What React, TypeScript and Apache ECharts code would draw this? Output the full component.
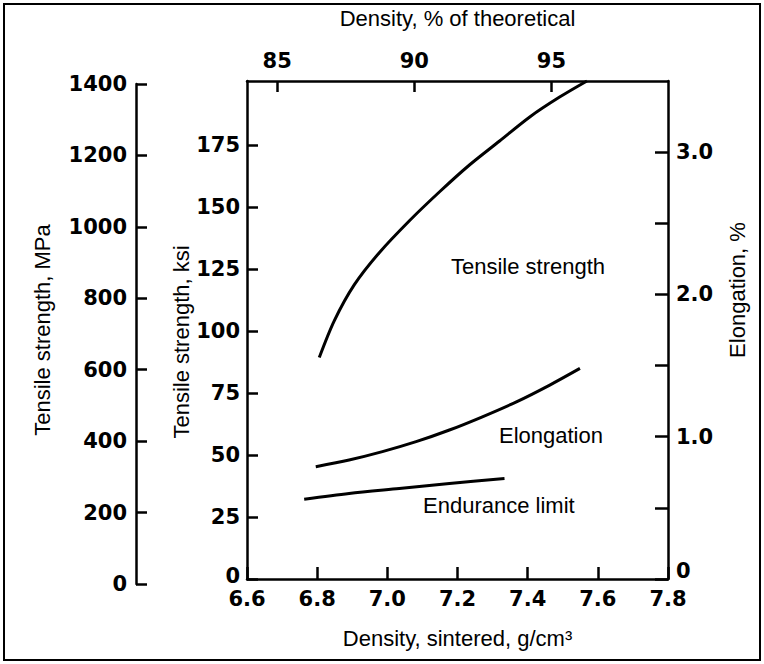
import React, { useEffect, useRef } from "react";
import * as echarts from "echarts";

// ---- data ----
const densityTensile = [6.806, 6.849, 6.906, 6.977, 7.063, 7.149, 7.234, 7.32, 7.406, 7.491, 7.569];
const tensileKsi = [89.4, 104.3, 118.8, 131.7, 144.6, 156.3, 167.1, 176.8, 186.5, 194.5, 201];

const densityElong = [6.796, 6.891, 6.986, 7.082, 7.177, 7.271, 7.368, 7.463, 7.549];
const elongationPct = [0.789, 0.836, 0.895, 0.965, 1.047, 1.14, 1.245, 1.363, 1.48];

const densityEndur = [6.763, 6.891, 7.034, 7.177, 7.334];
const enduranceKsi = [32.2, 34.5, 36.5, 38.5, 40.6];

const ksiTicks = [0, 25, 50, 75, 100, 125, 150, 175];
const elongTicks = [0, 0.5, 1, 1.5, 2, 2.5, 3];
const elongLabels = [0, 1, 2, 3];
const mpaTicks = [0, 200, 400, 600, 800, 1000, 1200, 1400];

const pairs = (xs: number[], ys: number[]) => xs.map((x, i) => [x, ys[i]]);

const LABEL_FONT = {
  fontFamily: "DejaVu Sans",
  fontWeight: "bold" as const,
  fontSize: 21,
  color: "#000",
};
const TITLE_FONT = {
  fontFamily: "Liberation Sans",
  fontSize: 22,
  color: "#000",
};
const AXIS_LINE = { show: true, onZero: false, lineStyle: { color: "#000", width: 2.5 } };
const TICK = (len: number) => ({
  show: true,
  inside: true,
  length: len,
  lineStyle: { color: "#000", width: 2.5 },
});

export default function App() {
  const ref = useRef<HTMLDivElement>(null);

  useEffect(() => {
    if (!ref.current) return;
    const chart = echarts.init(ref.current, null, { renderer: "svg" });
    const option: any = {
      animation: false,
      backgroundColor: "#fff",
      grid: [
        { left: 247, top: 81, right: 96, bottom: 85, containLabel: false, outerBoundsMode: "none" },
        { left: 136, top: 84, width: 1, bottom: 80, containLabel: false, outerBoundsMode: "none" },
      ],
      xAxis: [
        {
          type: "value",
          gridIndex: 0,
          position: "bottom",
          min: 6.6,
          max: 7.8,
          interval: 0.2,
          axisLine: AXIS_LINE,
          axisTick: TICK(12),
          splitLine: { show: false },
          axisLabel: {
            ...LABEL_FONT,
            margin: 9,
            formatter: (v: number) => v.toFixed(1),
          },
          name: "Density, sintered, g/cm\u00B3",
          nameLocation: "middle",
          nameGap: 48,
          nameTextStyle: TITLE_FONT,
        },
        {
          type: "value",
          gridIndex: 0,
          position: "top",
          min: 83.9,
          max: 99.25,
          splitNumber: 3,
          minInterval: 5,
          maxInterval: 5,
          axisLine: AXIS_LINE,
          axisTick: TICK(11),
          splitLine: { show: false },
          axisLabel: {
            ...LABEL_FONT,
            margin: 10,
            showMinLabel: false,
            showMaxLabel: false,
            formatter: (v: number) => (Math.abs(v % 5) < 1e-6 ? String(v) : ""),
          },
          name: "Density, % of theoretical",
          nameLocation: "middle",
          nameGap: 52,
          nameTextStyle: TITLE_FONT,
        },
        {
          type: "value",
          gridIndex: 1,
          show: false,
          min: 0,
          max: 1,
        },
      ],
      yAxis: [
        {
          type: "value",
          gridIndex: 0,
          position: "left",
          min: 0,
          max: 201,
          axisLine: AXIS_LINE,
          axisTick: { ...TICK(11), customValues: ksiTicks },
          splitLine: { show: false },
          axisLabel: {
            ...LABEL_FONT,
            margin: 7,
            customValues: ksiTicks,
            formatter: (v: number) => (v === 0 ? "{z|0}" : String(v)),
            rich: { z: { ...LABEL_FONT, padding: [0, 0, 6, 0] } },
          },
        },
        {
          type: "value",
          gridIndex: 0,
          position: "right",
          min: 0,
          max: 3.5,
          axisLine: AXIS_LINE,
          axisTick: { ...TICK(13), customValues: elongTicks },
          splitLine: { show: false },
          axisLabel: {
            ...LABEL_FONT,
            margin: 8,
            customValues: elongLabels,
            formatter: (v: number) => (v === 0 ? "{z|0}" : v.toFixed(1)),
            rich: { z: { ...LABEL_FONT, padding: [0, 0, 16, 0] } },
          },
        },
        {
          type: "value",
          gridIndex: 1,
          position: "left",
          min: 0,
          max: 1400,
          axisLine: AXIS_LINE,
          axisTick: { ...TICK(11), customValues: mpaTicks },
          splitLine: { show: false },
          axisLabel: {
            ...LABEL_FONT,
            margin: 9,
            customValues: mpaTicks,
            formatter: (v: number) => String(v),
          },
        },
      ],
      series: [
        {
          type: "line",
          name: "Tensile strength",
          xAxisIndex: 0,
          yAxisIndex: 0,
          data: pairs(densityTensile, tensileKsi),
          smooth: 0.3,
          showSymbol: false,
          lineStyle: { color: "#000", width: 3 },
        },
        {
          type: "line",
          name: "Elongation",
          xAxisIndex: 0,
          yAxisIndex: 1,
          data: pairs(densityElong, elongationPct),
          smooth: 0.3,
          showSymbol: false,
          lineStyle: { color: "#000", width: 3 },
        },
        {
          type: "line",
          name: "Endurance limit",
          xAxisIndex: 0,
          yAxisIndex: 0,
          data: pairs(densityEndur, enduranceKsi),
          smooth: 0.3,
          showSymbol: false,
          lineStyle: { color: "#000", width: 3 },
        },
      ],
      graphic: [
        {
          type: "rect",
          shape: { x: 4, y: 4, width: 756, height: 656 },
          style: { fill: "none", stroke: "#000", lineWidth: 2 },
          silent: true,
        },
        {
          type: "text",
          x: 42,
          y: 330,
          rotation: Math.PI / 2,
          style: {
            text: "Tensile strength, MPa",
            align: "center",
            verticalAlign: "middle",
            font: "22px 'Liberation Sans'",
            fill: "#000",
          },
        },
        {
          type: "text",
          x: 181,
          y: 342,
          rotation: Math.PI / 2,
          style: {
            text: "Tensile strength, ksi",
            align: "center",
            verticalAlign: "middle",
            font: "22px 'Liberation Sans'",
            fill: "#000",
          },
        },
        {
          type: "text",
          x: 737,
          y: 290,
          rotation: Math.PI / 2,
          style: {
            text: "Elongation, %",
            align: "center",
            verticalAlign: "middle",
            font: "22px 'Liberation Sans'",
            fill: "#000",
          },
        },
        {
          type: "text",
          x: 451,
          y: 266,
          style: {
            text: "Tensile strength",
            align: "left",
            verticalAlign: "middle",
            font: "22px 'Liberation Sans'",
            fill: "#000",
          },
        },
        {
          type: "text",
          x: 499,
          y: 435,
          style: {
            text: "Elongation",
            align: "left",
            verticalAlign: "middle",
            font: "22px 'Liberation Sans'",
            fill: "#000",
          },
        },
        {
          type: "text",
          x: 423,
          y: 505,
          style: {
            text: "Endurance limit",
            align: "left",
            verticalAlign: "middle",
            font: "22px 'Liberation Sans'",
            fill: "#000",
          },
        },
      ],
    };
    chart.setOption(option);
    return () => chart.dispose();
  }, []);

  return (
    <div
      ref={ref}
      style={{ position: "fixed", left: 0, top: 0, width: 764, height: 664, background: "#fff" }}
    />
  );
}
